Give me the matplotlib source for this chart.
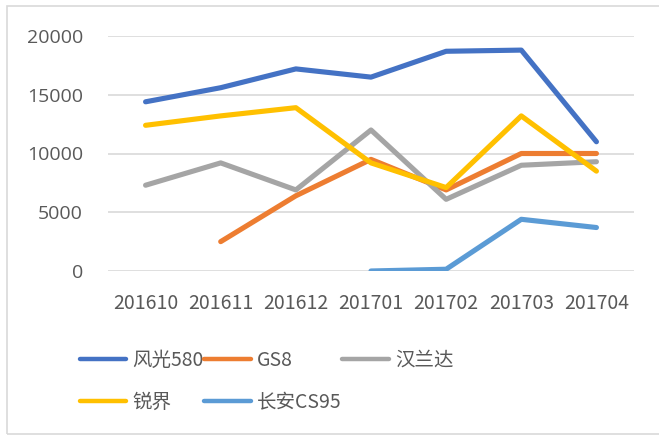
import matplotlib
matplotlib.use("Agg")
import matplotlib.pyplot as plt
import numpy as np
from matplotlib.patches import Rectangle

months = ["201610", "201611", "201612", "201701", "201702", "201703", "201704"]
nan = np.nan

fengguang = [14400, 15600, 17200, 16500, 18700, 18800, 11000]
gs8 = [nan, 2500, 6400, 9500, 6900, 10000, 10000]
hanlanda = [7300, 9200, 6900, 12000, 6100, 9000, 9300]
ruijie = [12400, 13200, 13900, 9200, 7100, 13200, 8500]
cs95 = [nan, nan, nan, 0, 150, 4400, 3700]

names = ["风光580", "GS8", "汉兰达", "锐界", "长安CS95"]
colors = ["#4472C4", "#ED7D31", "#A5A5A5", "#FFC000", "#5B9BD5"]

txt = "#595959"
narrow = ["Liberation Sans Narrow", "Noto Sans CJK SC", "DejaVu Sans"]

fig = plt.figure(figsize=(6.59, 4.36), dpi=100)
# chart border (right side runs off the picture)
fig.add_artist(Rectangle((7 / 659, 1 - 434 / 436), 1.0, (434 - 6) / 436,
                         transform=fig.transFigure, fill=False,
                         edgecolor="#D9D9D9", linewidth=1.2))

ax = fig.add_axes([108 / 659, 165 / 436, 526 / 659, 235 / 436])
x = np.arange(len(months))
series = [fengguang, gs8, hanlanda, ruijie, cs95]
handles = []
for vals, name, c in zip(series, names, colors):
    ln, = ax.plot(x, vals, color=c, lw=3.7, solid_capstyle="round",
                  solid_joinstyle="round", label=name)
    handles.append(ln)

ax.set_xlim(-0.5, 6.5)
ax.set_ylim(0, 20000)
ax.set_yticks([0, 5000, 10000, 15000, 20000])
ax.yaxis.grid(True, color="#D9D9D9", lw=1.2)
ax.set_axisbelow(True)
for s in ax.spines.values():
    s.set_visible(False)
ax.tick_params(length=0)
ax.set_xticks(x)
ax.set_xticklabels(months, family=narrow, fontsize=14, color=txt)
for lab in ax.get_yticklabels():
    lab.set_family(["Open Sans", "DejaVu Sans"])
    lab.set_fontsize(14)
    lab.set_color(txt)
ax.tick_params(axis="y", pad=18)
ax.tick_params(axis="x", pad=16)

# legend fills row by row in the reference, matplotlib fills by column
order = [0, 3, 1, 4, 2]
leg = fig.legend([handles[i] for i in order], [names[i] for i in order],
                 loc="upper left", bbox_to_anchor=(62 / 659, 1 - 332 / 436),
                 ncol=3, frameon=False, handlelength=2.4, handletextpad=0.3,
                 columnspacing=0.05, labelspacing=1.1,
                 prop={"family": narrow, "size": 14})
for t in leg.get_texts():
    t.set_color(txt)
for h in leg.get_lines():
    h.set_linewidth(3.2)

fig.savefig("out.png", dpi=100)
